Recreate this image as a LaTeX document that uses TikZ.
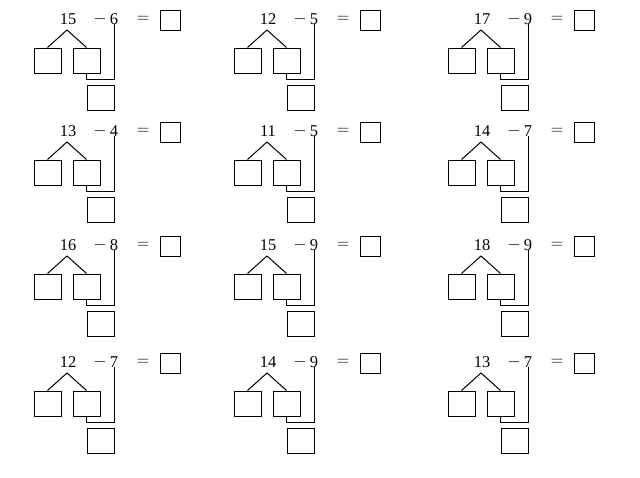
\documentclass[tikz,border=0pt]{standalone}
\usepackage{fontspec}
\setmainfont{Liberation Serif}
\begin{document}
\begin{tikzpicture}[x=1pt,y=-1pt,line width=1pt,
  bx/.style={draw,minimum width=27pt,minimum height=25pt,inner sep=0pt},
  ab/.style={draw,minimum width=20pt,minimum height=20pt,inner sep=0pt},
  tx/.style={font=\fontsize{16.5}{16.5}\selectfont,inner sep=0pt}]
\useasboundingbox (0,0) rectangle (640,477);
\foreach \dx/\dy/\a/\b/\n in {0/0/15/6/a,200/0/12/5/b,414/0/17/9/c,
  0/112/13/4/d,200/112/11/5/e,414/112/14/7/f,
  0/226/16/8/g,200/226/15/9/h,414/226/18/9/i,
  0/343/12/7/j,200/343/14/9/k,414/343/13/7/l}{
 \begin{scope}[shift={(\dx,\dy)}]
  \node[tx] (\n x) at (68,19) {\a};
  \node[tx] (\n m) at (100,19) {$-$};
  \node[tx] (\n y) at (114,19) {\b};
  \node[tx] (\n e) at (143,19) {$=$};
  \node[ab] (\n r) at (170.5,20.5) {};
  \coordinate (\n p) at (67,30);
  \node[bx] (\n L) at (47.5,60.5) {};
  \node[bx] (\n R) at (86.5,60.5) {};
  \node[bx] (\n B) at (100.5,97.5) {};
  \draw (\n L.north) -- (\n p) -- (\n R.north);
  \draw (\n y.south) ++(0,-1) -- (114,79) -| (\n R.south);
 \end{scope}}
\end{tikzpicture}
\end{document}
